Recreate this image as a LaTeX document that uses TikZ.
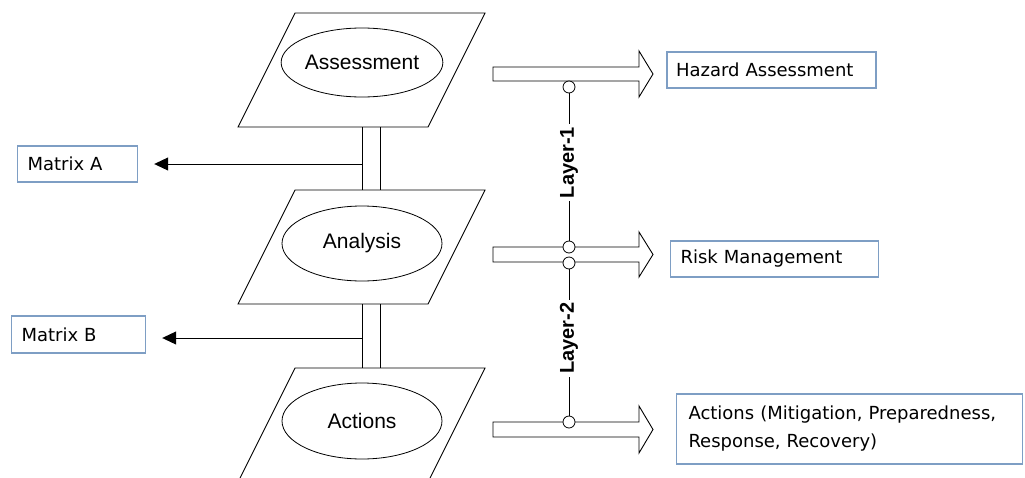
\documentclass[tikz,border=0pt]{standalone}
\usepackage{fontspec}
\setmainfont{Liberation Sans}
\newfontfamily\boxfont{DejaVu Sans}
\usetikzlibrary{shapes.geometric,arrows.meta}
\definecolor{boxblue}{RGB}{126,158,196}
\begin{document}
\begin{tikzpicture}[x=1pt,y=-1pt,
  stage/.style={draw, line width=0.9pt, line join=miter},
  oval/.style={ellipse, draw, line width=0.8pt, minimum width=160pt, inner sep=0pt,
    font=\fontsize{21}{25}\selectfont},
  tagbox/.style={draw=boxblue, line width=1.4pt, align=left, inner ysep=0pt,
    font=\boxfont\fontsize{18}{28}\selectfont},
  ring/.style={circle, draw, fill=white, line width=0.8pt, minimum size=12pt, inner sep=0pt},
  blockarrow/.style={draw, fill=white, line width=0.9pt, line join=miter},
  layer/.style={fill=white, rotate=90, inner xsep=3pt, inner ysep=1pt,
    font=\bfseries\fontsize{20}{24}\selectfont},
  link/.style={line width=0.9pt},
  toleft/.style={link, -{Triangle[length=14pt,width=13pt]}, shorten >=16pt}
]
\clip (0,0) rectangle (1025,477);

% three stages: parallelogram frames
\draw[stage] (295,13) -- (485,13) -- (428,127) -- (238,127) -- cycle;
\draw[stage] (295,190) -- (485,190) -- (428,304) -- (238,304) -- cycle;
\draw[stage] (295,368) -- (485,368) -- (428,482) -- (238,482) -- cycle;

% stage titles
\node[oval, minimum height=69pt] (assess) at (362,62.5) {Assessment};
\node[oval, minimum height=75pt] (analysis) at (362,243.5) {Analysis};
\node[oval, minimum height=76pt] (actions) at (362,421) {Actions};

% double pillars joining the stages
\coordinate (p1top) at (362,127);
\coordinate (p1bot) at (362,190);
\coordinate (q1top) at (380,127);
\coordinate (q1bot) at (380,190);
\coordinate (p2top) at (362,304);
\coordinate (p2bot) at (362,368);
\coordinate (q2top) at (380,304);
\coordinate (q2bot) at (380,368);
\draw[link] (p1top) -- (p1bot);
\draw[link] (q1top) -- (q1bot);
\draw[link] (p2top) -- (p2bot);
\draw[link] (q2top) -- (q2bot);

% outputs on the left
\node[tagbox, text width=100pt, inner xsep=10pt, minimum height=36pt] (matA) at (77.5,164) {Matrix A};
\node[tagbox, text width=114pt, inner xsep=10pt, minimum height=37pt] (matB) at (78.5,334.5) {Matrix B};
\coordinate (tapA) at (362,164);
\coordinate (tapB) at (362,338);
\draw[toleft] (tapA) -- (matA.east |- tapA);
\draw[toleft] (tapB) -- (matB.east |- tapB);

% block arrows towards the results
\draw[blockarrow] (493,67) -- (639,67) -- (639,51) -- (653,74) -- (639,97) -- (639,81) -- (493,81) -- cycle;
\draw[blockarrow] (493,247) -- (639,247) -- (639,232) -- (653,254.5) -- (639,277) -- (639,262) -- (493,262) -- cycle;
\draw[blockarrow] (493,422) -- (639,422) -- (639,406) -- (653,429.5) -- (639,453) -- (639,437) -- (493,437) -- cycle;

% results
\node[tagbox, text width=191pt, inner xsep=9pt, minimum height=36pt] (hazard) at (771.5,70) {Hazard Assessment};
\node[tagbox, text width=188pt, inner xsep=10pt, minimum height=36pt] (risk) at (774.5,259) {Risk Management};
\node[tagbox, text width=322pt, inner xsep=12pt, minimum height=70pt] (acts) at (849.5,429)
  {Actions (Mitigation, Preparedness,\\Response, Recovery)};

% layer links
\node[ring] (c1) at (569,87) {};
\node[ring] (c2) at (569,247) {};
\node[ring] (c3) at (569,263) {};
\node[ring] (c4) at (569,422) {};
\draw[link] (c1) -- node[layer, pos=0.47] {Layer-1} (c2);
\draw[link] (c3) -- node[layer, pos=0.47] {Layer-2} (c4);
\end{tikzpicture}
\end{document}
